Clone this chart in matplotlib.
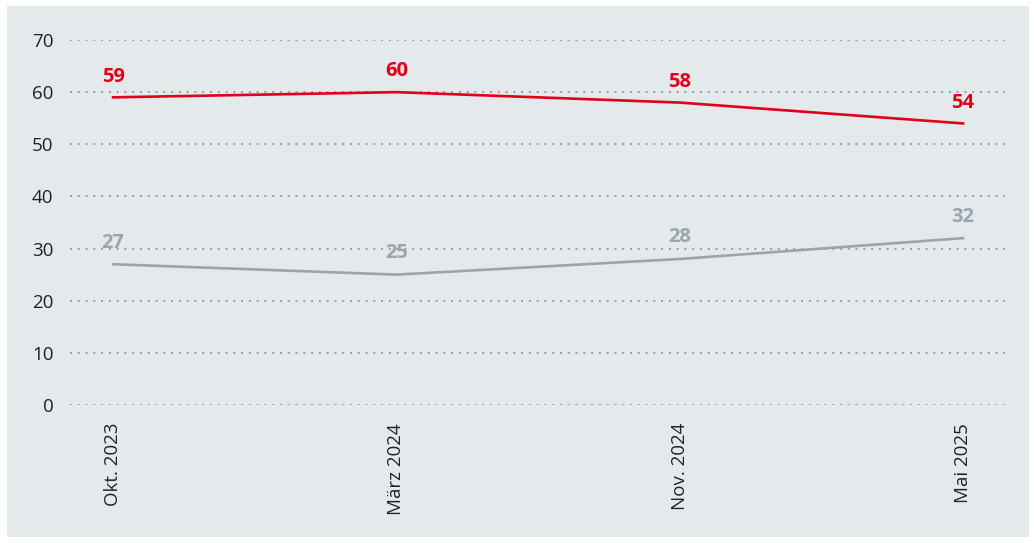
import matplotlib.pyplot as plt
from matplotlib.patches import Rectangle

plt.rcParams['font.family'] = ['Open Sans', 'DejaVu Sans']

dates = ['Okt. 2023', 'März 2024', 'Nov. 2024', 'Mai 2025']
red_vals = [59, 60, 58, 54]
gray_vals = [27, 25, 28, 32]

red = '#e2001a'
gray = '#9aa6ae'

fig = plt.figure(figsize=(10.34, 5.43), dpi=100)
fig.patch.set_facecolor('white')
# light panel behind the chart
panel = Rectangle((7 / 1034, 6 / 543), 1022 / 1034, 531 / 543,
                  transform=fig.transFigure, facecolor='#e4e9ec',
                  edgecolor='none', zorder=0)
fig.add_artist(panel)

ax = fig.add_axes([70 / 1034, 138 / 543, 935 / 1034, 365 / 543])
ax.set_zorder(2)
ax.set_facecolor('none')

x = list(range(len(dates)))
ax.plot(x, red_vals, color=red, lw=1.9, clip_on=False, zorder=3)
ax.plot(x, gray_vals, color=gray, lw=1.9, clip_on=False, zorder=3)

for i in x:
    ax.annotate(str(red_vals[i]), (i, red_vals[i]), xytext=(0, 15), textcoords='offset points',
                ha='center', va='center', color=red, fontsize=14.5, fontweight='bold')
    ax.annotate(str(gray_vals[i]), (i, gray_vals[i]), xytext=(0, 15.5), textcoords='offset points',
                ha='center', va='center', color=gray, fontsize=14.5, fontweight='bold')

ax.set_xlim(-0.152, 3.148)
ax.set_ylim(0, 70)
ax.set_yticks(range(0, 71, 10))
ax.set_xticks(x)
ax.set_xticklabels(dates, rotation=90)
ax.tick_params(axis='both', length=0, labelsize=13.5, colors='#222222')
ax.tick_params(axis='x', pad=13)
ax.tick_params(axis='y', pad=12)
ax.yaxis.grid(True, linestyle=(0, (1, 3)), color='#959ea5', lw=1.4)
ax.set_axisbelow(True)
for s in ax.spines.values():
    s.set_visible(False)

fig.savefig('out.png', dpi=100, facecolor='white')
